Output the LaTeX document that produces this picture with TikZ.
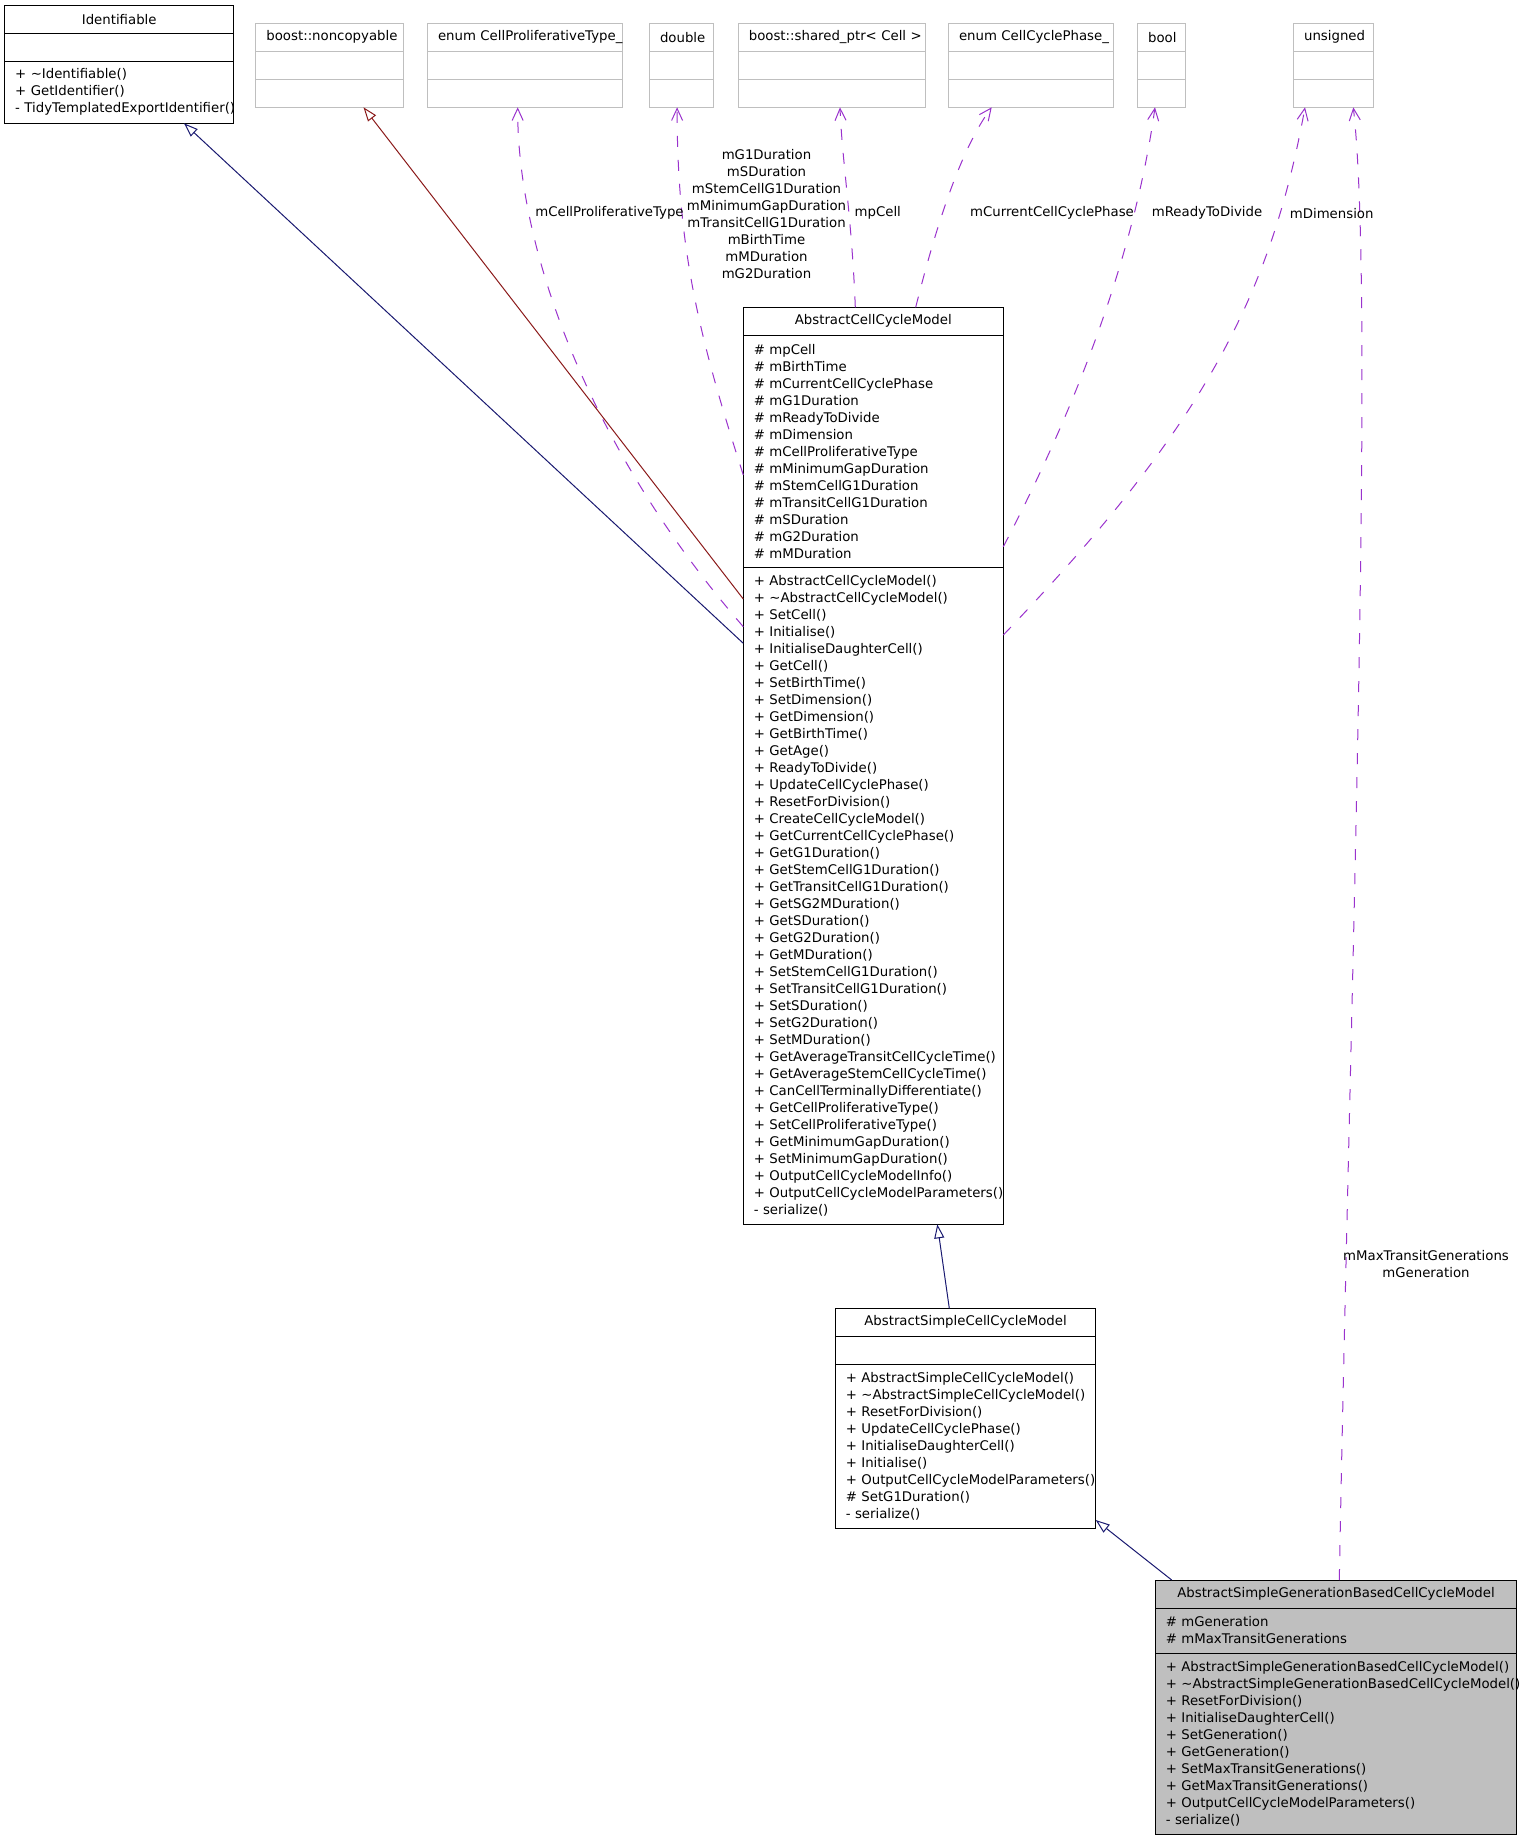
\documentclass[tikz,border=0pt]{standalone}
\usepackage{fontspec}
\setmainfont{DejaVu Sans}
\usepackage{xcolor}
\definecolor{umlnavy}{RGB}{25,25,112}
\definecolor{umlred}{RGB}{139,26,26}
\definecolor{umlorchid}{RGB}{154,50,205}
\definecolor{umlgrey}{RGB}{191,191,191}
\usetikzlibrary{arrows.meta, positioning, calc}
\hyphenpenalty=10000
\exhyphenpenalty=10000

\tikzset{
  umlfont/.style={font=\fontsize{13.3}{17}\selectfont},
  part/.style={umlfont, draw=black, line width=1pt, inner xsep=10.5pt, inner ysep=0pt,
    outer sep=0pt, align=left, anchor=north west, text width=#1, minimum height=28pt},
  head/.style={part=#1, align=center},
  extpart/.style={part=#1, draw=umlgrey},
  exthead/.style={head=#1, draw=umlgrey},
  inherit/.style={line width=1pt, -{Triangle[open, length=14pt, width=10pt]}},
  uses/.style={line width=1pt, umlorchid, dash pattern=on 11pt off 13pt,
    -{Straight Barb[length=12pt, width=11pt]}},
  edgelabel/.style={umlfont, inner sep=0pt, align=center}
}

\begin{document}
\begin{tikzpicture}[x=1pt, y=-1pt]
  \useasboundingbox (0,0) rectangle (1520,1840);

  % Identifiable
  \node[head=208pt] (ident) at (4.7,5.3) {Identifiable};
  \node[part=208pt, below=0pt of ident] (ident-attr) {};
  \node[part=208pt, minimum height=62pt, below=0pt of ident-attr] (ident-ops)
       {+~\textasciitilde Identifiable()\\+~GetIdentifier()\\-~TidyTemplatedExportIdentifier()};

  % member types
  \node[exthead=126.4pt] (noncopy) at (255.9,23.3) {boost::noncopyable};
  \node[extpart=126.4pt, below=0pt of noncopy] (noncopy-attr) {};
  \node[extpart=126.4pt, below=0pt of noncopy-attr] (noncopy-ops) {};

  \node[exthead=174.3pt] (cpt) at (427.5,23.3) {enum~CellProliferativeType\_};
  \node[extpart=174.3pt, below=0pt of cpt] (cpt-attr) {};
  \node[extpart=174.3pt, below=0pt of cpt-attr] (cpt-ops) {};

  \node[exthead=43pt] (dbl) at (649.5,23.3) {double};
  \node[extpart=43pt, below=0pt of dbl] (dbl-attr) {};
  \node[extpart=43pt, below=0pt of dbl-attr] (dbl-ops) {};

  \node[exthead=166pt] (cellptr) at (738.3,23.3) {boost::shared\_ptr<~Cell~>};
  \node[extpart=166pt, below=0pt of cellptr] (cellptr-attr) {};
  \node[extpart=166pt, below=0pt of cellptr-attr] (cellptr-ops) {};

  \node[exthead=143.8pt] (ccp) at (948.5,23.3) {enum~CellCyclePhase\_};
  \node[extpart=143.8pt, below=0pt of ccp] (ccp-attr) {};
  \node[extpart=143.8pt, below=0pt of ccp-attr] (ccp-ops) {};

  \node[exthead=27pt] (bool) at (1137.6,23.3) {bool};
  \node[extpart=27pt, below=0pt of bool] (bool-attr) {};
  \node[extpart=27pt, below=0pt of bool-attr] (bool-ops) {};

  \node[exthead=59pt] (uns) at (1293.6,23.3) {unsigned};
  \node[extpart=59pt, below=0pt of uns] (uns-attr) {};
  \node[extpart=59pt, below=0pt of uns-attr] (uns-ops) {};

  % AbstractCellCycleModel
  \node[head=239pt] (acm) at (743.3,307.3) {AbstractCellCycleModel};
  \node[part=239pt, minimum height=232pt, below=0pt of acm] (acm-attr)
       {\#~mpCell\\\#~mBirthTime\\\#~mCurrentCellCyclePhase\\\#~mG1Duration\\
        \#~mReadyToDivide\\\#~mDimension\\\#~mCellProliferativeType\\
        \#~mMinimumGapDuration\\\#~mStemCellG1Duration\\\#~mTransitCellG1Duration\\
        \#~mSDuration\\\#~mG2Duration\\\#~mMDuration};
  \node[part=239pt, minimum height=657pt, below=0pt of acm-attr] (acm-ops)
       {+~AbstractCellCycleModel()\\+~\textasciitilde AbstractCellCycleModel()\\
        +~SetCell()\\+~Initialise()\\+~InitialiseDaughterCell()\\+~GetCell()\\
        +~SetBirthTime()\\+~SetDimension()\\+~GetDimension()\\+~GetBirthTime()\\
        +~GetAge()\\+~ReadyToDivide()\\+~UpdateCellCyclePhase()\\+~ResetForDivision()\\
        +~CreateCellCycleModel()\\+~GetCurrentCellCyclePhase()\\+~GetG1Duration()\\
        +~GetStemCellG1Duration()\\+~GetTransitCellG1Duration()\\+~GetSG2MDuration()\\
        +~GetSDuration()\\+~GetG2Duration()\\+~GetMDuration()\\+~SetStemCellG1Duration()\\
        +~SetTransitCellG1Duration()\\+~SetSDuration()\\+~SetG2Duration()\\
        +~SetMDuration()\\+~GetAverageTransitCellCycleTime()\\
        +~GetAverageStemCellCycleTime()\\+~CanCellTerminallyDifferentiate()\\
        +~GetCellProliferativeType()\\+~SetCellProliferativeType()\\
        +~GetMinimumGapDuration()\\+~SetMinimumGapDuration()\\
        +~OutputCellCycleModelInfo()\\+~OutputCellCycleModelParameters()\\-~serialize()};

  % AbstractSimpleCellCycleModel
  \node[head=239.4pt] (ascm) at (835.3,1308.3) {AbstractSimpleCellCycleModel};
  \node[part=239.4pt, below=0pt of ascm] (ascm-attr) {};
  \node[part=239.4pt, minimum height=164pt, below=0pt of ascm-attr] (ascm-ops)
       {+~AbstractSimpleCellCycleModel()\\+~\textasciitilde AbstractSimpleCellCycleModel()\\
        +~ResetForDivision()\\+~UpdateCellCyclePhase()\\+~InitialiseDaughterCell()\\
        +~Initialise()\\+~OutputCellCycleModelParameters()\\\#~SetG1Duration()\\-~serialize()};

  % AbstractSimpleGenerationBasedCellCycleModel
  \node[head=340.4pt, fill=umlgrey] (asgm) at (1155.3,1580) {AbstractSimpleGenerationBasedCellCycleModel};
  \node[part=340.4pt, fill=umlgrey, minimum height=45pt, below=0pt of asgm] (asgm-attr)
       {\#~mGeneration\\\#~mMaxTransitGenerations};
  \node[part=340.4pt, fill=umlgrey, minimum height=181pt, below=0pt of asgm-attr] (asgm-ops)
       {+~AbstractSimpleGenerationBasedCellCycleModel()\\
        +~\textasciitilde AbstractSimpleGenerationBasedCellCycleModel()\\
        +~ResetForDivision()\\+~InitialiseDaughterCell()\\+~SetGeneration()\\
        +~GetGeneration()\\+~SetMaxTransitGenerations()\\+~GetMaxTransitGenerations()\\
        +~OutputCellCycleModelParameters()\\-~serialize()};

  % inheritance
  \draw[inherit, umlnavy] ($(acm-ops.north west)+(0,76)$) -- ($(ident-ops.south west)+(179.3,0)$);
  \draw[inherit, umlred] ($(acm-ops.north west)+(0,31.7)$) -- ($(noncopy-ops.south west)+(107.6,0)$);
  \draw[inherit, umlnavy] ($(ascm.north west)+(114,0)$) -- ($(acm-ops.south west)+(194,0)$);
  \draw[inherit, umlnavy] ($(asgm.north west)+(16.4,0)$) -- ($(ascm-ops.south east)+(0,-8.3)$);

  % usage
  \draw[uses] ($(acm-ops.north west)+(0,59.4)$) .. controls (590,450) and (517,250)
       .. ($(cpt-ops.south west)+(90.2,0)$);
  \draw[uses] ($(acm-attr.north west)+(0,139.7)$) .. controls (700,340) and (677,250)
       .. ($(dbl-ops.south west)+(27.6,0)$);
  \draw[uses] ($(acm.north west)+(112,0)$) .. controls (852,220) and (842,160)
       .. ($(cellptr-ops.south west)+(101.7,0)$);
  \draw[uses] ($(acm.north west)+(172.4,0)$) .. controls (935,230) and (960,150)
       .. ($(ccp-ops.south west)+(43.2,0)$);
  \draw[uses] ($(acm-attr.north east)+(0,211.4)$) .. controls (1080,400) and (1135,250)
       .. ($(bool-ops.south west)+(17.4,0)$);
  \draw[uses] ($(acm-ops.north east)+(0,67.7)$) .. controls (1200,430) and (1270,300)
       .. ($(uns-ops.south west)+(11.4,0)$);
  \draw[uses] ($(asgm.north west)+(184,0)$) .. controls (1350,1000) and (1375,300)
       .. ($(uns-ops.south west)+(59.7,0)$);

  % labels
  \node[edgelabel] (lbl-cpt) at (609.5,213.3) {mCellProliferativeType};
  \node[edgelabel] (lbl-dbl) at (766.5,214.5)
       {mG1Duration\\mSDuration\\mStemCellG1Duration\\mMinimumGapDuration\\
        mTransitCellG1Duration\\mBirthTime\\mMDuration\\mG2Duration};
  \node[edgelabel] (lbl-cell) at (877.8,213.3) {mpCell};
  \node[edgelabel] (lbl-ccp) at (1052,213.3) {mCurrentCellCyclePhase};
  \node[edgelabel] (lbl-rtd) at (1207,213.3) {mReadyToDivide};
  \node[edgelabel] (lbl-dim) at (1331.7,213.3) {mDimension};
  \node[edgelabel] (lbl-gen) at (1426,1264) {mMaxTransitGenerations\\mGeneration};
\end{tikzpicture}
\end{document}
